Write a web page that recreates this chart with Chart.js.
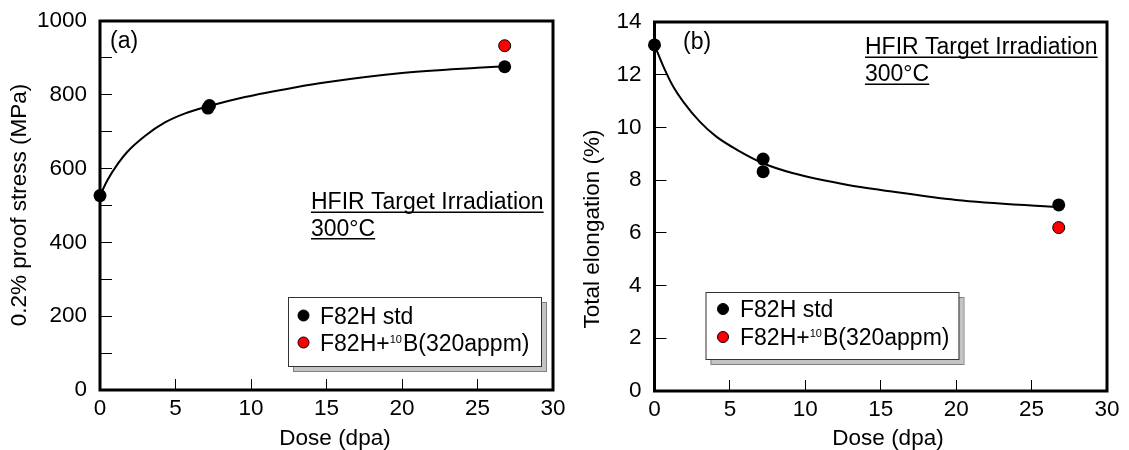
<!DOCTYPE html>
<html>
<head>
<meta charset="utf-8">
<script src="https://cdn.jsdelivr.net/npm/chart.js@4.4.0/dist/chart.umd.min.js"></script>
<style>
  html, body { margin: 0; padding: 0; background: #fff; }
  #wrap { position: relative; width: 1129px; height: 450px; overflow: hidden; }
  #left { position: absolute; left: 0; top: 0; }
  #right { position: absolute; left: 560px; top: 0; }
</style>
</head>
<body>
<div id="wrap">
  <canvas id="left" width="600" height="450"></canvas>
  <canvas id="right" width="569" height="450"></canvas>
</div>
<script>
// dose axis (dpa), shared by both panels
const doseTicks = [0, 5, 10, 15, 20, 25, 30];

// (a) 0.2% proof stress (MPa)
const stressTicks = [0, 100, 200, 300, 400, 500, 600, 700, 800, 900, 1000];
const stressTickLabels = ["0", "", "200", "", "400", "", "600", "", "800", "", "1000"];
const stressStdX = [0, 7.15, 7.25, 26.8];
const stressStdY = [527, 764, 771, 876];
const stressBoronX = [26.8];
const stressBoronY = [933];
const stressFitX = [0, 0.5, 1.2, 1.8, 3, 4.3, 5.6, 7.2, 9.6, 12.9, 15, 20, 25, 26.8];
const stressFitY = [527, 569, 614, 645, 689, 725, 749, 769, 794, 820, 834, 859, 873, 877];

// (b) total elongation (%)
const elongTicks = [0, 2, 4, 6, 8, 10, 12, 14];
const elongStdX = [0, 7.2, 7.2, 26.8];
const elongStdY = [13.13, 8.8, 8.32, 7.06];
const elongBoronX = [26.8];
const elongBoronY = [6.2];
const elongFitX = [0, 0.6, 1.25, 1.9, 3, 4.1, 5.5, 7.2, 9.2, 13, 15, 20, 26.8];
const elongFitY = [13.13, 12.3, 11.54, 10.98, 10.22, 9.65, 9.14, 8.64, 8.26, 7.8, 7.63, 7.25, 6.97];

const stdLabel = "F82H std";
const boronLabel = ["F82H+", "10", "B(320appm)"]; // middle part is a superscript
const noteLines = ["HFIR Target Irradiation", "300°C"];

const FONT = "'Liberation Sans', Arial, sans-serif";
Chart.defaults.font.family = FONT;
Chart.defaults.color = "#000";

function pts(xs, ys) {
  return xs.map((x, i) => ({ x: x, y: ys[i] }));
}

// frame, panel tag, underlined note, axis titles and the shadowed legend box
const decor = {
  id: "decor",
  beforeDatasetsDraw(chart, args, o) {
    const a = chart.chartArea, ctx = chart.ctx;
    ctx.save();
    ctx.strokeStyle = "#000";
    ctx.lineWidth = 3;
    ctx.strokeRect(a.left, a.top, a.right - a.left, a.bottom - a.top);
    ctx.restore();
  },
  afterDraw(chart, args, o) {
    const a = chart.chartArea, ctx = chart.ctx;
    ctx.save();
    ctx.fillStyle = "#000";
    ctx.textBaseline = "alphabetic";
    ctx.textAlign = "left";
    ctx.font = "23px " + FONT;
    ctx.fillText(o.tag, a.left + o.tagAt[0], a.top + o.tagAt[1]);

    noteLines.forEach((t, i) => {
      const x = a.left + o.noteAt[0];
      const y = a.top + o.noteAt[1] + i * o.noteGap;
      ctx.fillText(t, x, y);
      ctx.fillRect(x, y + 2.5, ctx.measureText(t).width, 1.5);
    });

    // axis titles
    ctx.font = "22.5px " + FONT;
    ctx.textAlign = "center";
    ctx.fillText(o.xTitle, o.xTitleAt[0], o.xTitleAt[1]);
    ctx.save();
    ctx.translate(o.yTitleAt[0], o.yTitleAt[1]);
    ctx.rotate(-Math.PI / 2);
    ctx.textBaseline = "middle";
    ctx.fillText(o.yTitle, 0, 0);
    ctx.restore();

    // legend
    const L = o.legend;
    ctx.fillStyle = "#c4c4c4";
    ctx.fillRect(L.x + 5, L.y + 5, L.w, L.h);
    ctx.strokeStyle = "#808080";
    ctx.lineWidth = 1;
    ctx.strokeRect(L.x + 5.5, L.y + 5.5, L.w, L.h);
    ctx.fillStyle = "#fff";
    ctx.fillRect(L.x, L.y, L.w, L.h);
    ctx.strokeStyle = "#333";
    ctx.strokeRect(L.x + 0.5, L.y + 0.5, L.w, L.h);

    const entries = [
      { color: "#000", parts: [stdLabel] },
      { color: "#ff0000", parts: boronLabel }
    ];
    entries.forEach((e, i) => {
      const cy = L.y + L.first + i * L.gap;
      ctx.beginPath();
      ctx.arc(L.x + L.mark, cy, 5.5, 0, Math.PI * 2);
      ctx.fillStyle = e.color;
      ctx.fill();
      ctx.strokeStyle = "#000";
      ctx.lineWidth = 1;
      ctx.stroke();

      ctx.fillStyle = "#000";
      ctx.textAlign = "left";
      let x = L.x + L.text;
      const base = cy + 8;
      e.parts.forEach((p, k) => {
        const sup = e.parts.length === 3 && k === 1;
        ctx.font = (sup ? "11px " : "23px ") + FONT;
        ctx.fillText(p, x, sup ? base - 8 : base);
        x += ctx.measureText(p).width + (sup ? 1 : 0);
      });
    });
    ctx.restore();
  }
};

function makeChart(id, p) {
  return new Chart(document.getElementById(id), {
    type: "scatter",
    plugins: [decor],
    data: {
      datasets: [
        {
          label: boronLabel.join(""),
          data: p.boron,
          backgroundColor: "#ff0000",
          borderColor: "#000",
          borderWidth: 1,
          pointRadius: 6,
          clip: false,
          order: 0
        },
        {
          label: stdLabel,
          data: p.std,
          backgroundColor: "#000",
          borderColor: "#000",
          borderWidth: 0,
          pointRadius: 6.5,
          clip: false,
          order: 1
        },
        {
          label: "fit",
          data: p.fit,
          showLine: true,
          borderColor: "#000",
          borderWidth: 2,
          pointRadius: 0,
          cubicInterpolationMode: "monotone",
          fill: false,
          clip: false,
          order: 2
        }
      ]
    },
    options: {
      responsive: false,
      animation: false,
      events: [],
      layout: { padding: { left: 0, top: p.top, right: p.right, bottom: 0 } },
      plugins: {
        legend: { display: false },
        tooltip: { enabled: false },
        decor: p.decor
      },
      scales: {
        x: {
          type: "linear",
          min: 0,
          max: 30,
          afterBuildTicks: s => { s.ticks = doseTicks.map(v => ({ value: v })); },
          afterFit: s => { s.height = p.xHeight; s.paddingLeft = 0; s.paddingRight = 0; },
          ticks: { font: { size: 22.5 }, padding: 16, maxRotation: 0, autoSkip: false },
          grid: { drawOnChartArea: false, tickLength: -11, color: "#000", lineWidth: 1 },
          border: { display: false }
        },
        y: {
          type: "linear",
          min: 0,
          max: p.yTicks[p.yTicks.length - 1],
          afterBuildTicks: s => { s.ticks = p.yTicks.map(v => ({ value: v })); },
          afterFit: s => { s.width = p.yWidth; s.paddingTop = 0; s.paddingBottom = 0; },
          ticks: {
            font: { size: 22.5 },
            padding: 25,
            autoSkip: false,
            callback: (v, i) => p.yLabels[i]
          },
          grid: { drawOnChartArea: false, tickLength: -12, color: "#000", lineWidth: 1 },
          border: { display: false }
        }
      }
    }
  });
}

makeChart("left", {
  std: pts(stressStdX, stressStdY),
  boron: pts(stressBoronX, stressBoronY),
  fit: pts(stressFitX, stressFitY),
  yTicks: stressTicks,
  yLabels: stressTickLabels,
  top: 21, right: 47, xHeight: 60, yWidth: 100,
  decor: {
    tag: "(a)", tagAt: [10, 27],
    noteAt: [211, 188], noteGap: 26.5,
    xTitle: "Dose (dpa)", xTitleAt: [335, 445],
    yTitle: "0.2% proof stress (MPa)", yTitleAt: [20, 205],
    legend: { x: 288, y: 297, w: 253, h: 69, first: 18.5, gap: 27, mark: 15.5, text: 32 }
  }
});

makeChart("right", {
  std: pts(elongStdX, elongStdY),
  boron: pts(elongBoronX, elongBoronY),
  fit: pts(elongFitX, elongFitY),
  yTicks: elongTicks,
  yLabels: elongTicks.map(String),
  top: 22, right: 22, xHeight: 59, yWidth: 94.5,
  decor: {
    tag: "(b)", tagAt: [28.5, 27],
    noteAt: [210.5, 32], noteGap: 27,
    xTitle: "Dose (dpa)", xTitleAt: [328, 445],
    yTitle: "Total elongation (%)", yTitleAt: [33, 229],
    legend: { x: 145.5, y: 292, w: 253, h: 67, first: 17, gap: 28, mark: 17.5, text: 34.5 }
  }
});
</script>
</body>
</html>
